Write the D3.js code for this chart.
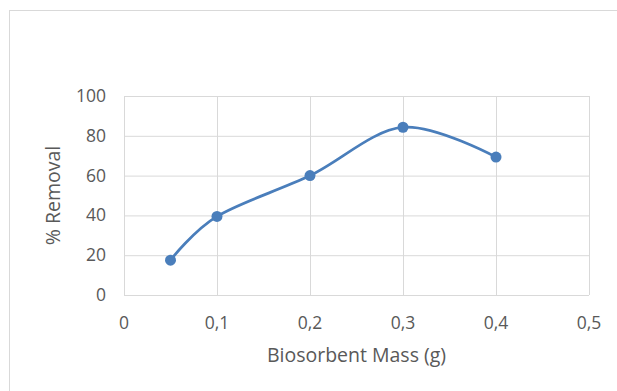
<!DOCTYPE html>
<meta charset="utf-8">
<script src="https://d3js.org/d3.v7.min.js"></script>
<style>
    body { margin: 0; background: #fff; }
</style>
<div id="chart"></div>
<script>
    // data
    var masses = [0.05, 0.1, 0.2, 0.3, 0.4];
    var removal = [17.5, 39.5, 60, 84.3, 69.3];
    var xTicks = [0, 0.1, 0.2, 0.3, 0.4, 0.5];
    var yTicks = [0, 20, 40, 60, 80, 100];

    var W = 617, H = 391;
    var margin = {top: 96, right: 28, bottom: 96, left: 124};
    var width = W - margin.left - margin.right,
        height = H - margin.top - margin.bottom;

    var svg = d3.select("#chart")
        .append("svg")
        .attr("width", W)
        .attr("height", H)
        .style("font-family", "'Open Sans', sans-serif");

    // chart frame
    svg.append("rect")
        .attr("x", 9.5).attr("y", 10.5)
        .attr("width", W + 10).attr("height", H + 10)
        .attr("fill", "none")
        .attr("stroke", "#d9d9d9");

    var g = svg.append("g")
        .attr("transform", "translate(" + margin.left + "," + margin.top + ")");

    var x = d3.scaleLinear().domain([0, 0.5]).range([0, width]);
    var y = d3.scaleLinear().domain([0, 100]).range([height, 0]);

    // gridlines
    g.append("g")
        .attr("transform", "translate(0," + height + ")")
        .call(d3.axisBottom(x).tickValues(xTicks).tickSize(-height).tickFormat(""))
        .call(function (a) {
            a.select(".domain").remove();
            a.selectAll("line").attr("stroke", "#d9d9d9");
        });
    g.append("g")
        .call(d3.axisLeft(y).tickValues(yTicks).tickSize(-width).tickFormat(""))
        .call(function (a) {
            a.select(".domain").remove();
            a.selectAll("line").attr("stroke", "#d9d9d9");
        });

    // tick labels
    var fmt = function (d) { return String(d).replace(".", ","); };
    g.selectAll(".xlab")
        .data(xTicks)
        .enter().append("text")
        .attr("x", function (d) { return x(d); })
        .attr("y", height + 34)
        .attr("text-anchor", "middle")
        .attr("font-size", "17.5px")
        .attr("fill", "#595959")
        .text(fmt);
    g.selectAll(".ylab")
        .data(yTicks)
        .enter().append("text")
        .attr("x", -18)
        .attr("y", function (d) { return y(d) + 6; })
        .attr("text-anchor", "end")
        .attr("font-size", "17.5px")
        .attr("fill", "#595959")
        .text(function (d) { return d; });

    // axis titles
    svg.append("text")
        .attr("x", margin.left + x(0.25))
        .attr("y", 362)
        .attr("text-anchor", "middle")
        .attr("font-size", "19.5px")
        .attr("fill", "#595959")
        .text("Biosorbent Mass (g)");
    svg.append("text")
        .attr("transform", "translate(60," + (margin.top + y(50)) + ") rotate(-90)")
        .attr("text-anchor", "middle")
        .attr("font-size", "19.5px")
        .attr("fill", "#595959")
        .text("% Removal");

    // smoothed series line
    var pts = masses.map(function (m, i) { return [m, removal[i]]; });
    var line = d3.line()
        .x(function (d) { return x(d[0]); })
        .y(function (d) { return y(d[1]); })
        .curve(d3.curveCardinal.tension(0));
    g.append("path")
        .datum(pts)
        .attr("d", line)
        .attr("fill", "none")
        .attr("stroke", "#4a7ebb")
        .attr("stroke-width", 2.75);

    g.selectAll(".dot")
        .data(pts)
        .enter().append("circle")
        .attr("cx", function (d) { return x(d[0]); })
        .attr("cy", function (d) { return y(d[1]); })
        .attr("r", 5.5)
        .attr("fill", "#4a7ebb");
</script>
